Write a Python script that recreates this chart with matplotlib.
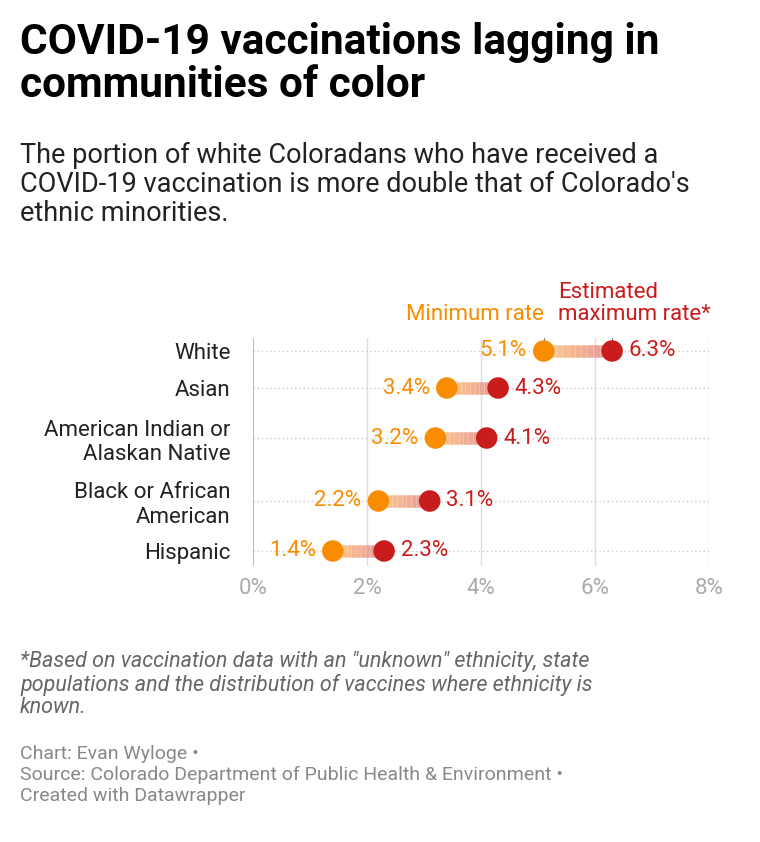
import matplotlib.pyplot as plt
import numpy as np
from matplotlib.collections import LineCollection
from matplotlib.colors import to_rgb

plt.rcParams['font.family'] = ['Roboto', 'DejaVu Sans']

groups = ['White', 'Asian', 'American Indian or\nAlaskan Native',
          'Black or African\nAmerican', 'Hispanic']
min_rate = [5.1, 3.4, 3.2, 2.2, 1.4]
max_rate = [6.3, 4.3, 4.1, 3.1, 2.3]
xticks = [0, 2, 4, 6, 8]

ORANGE = '#f98c00'
RED = '#c91d1d'

W, H = 760, 842
fig = plt.figure(figsize=(W / 100, H / 100), dpi=100)

# row positions depend on how many lines each label takes
lines = [g.count('\n') + 1 for g in groups]
ypos = [0.0]
for a, b in zip(lines[:-1], lines[1:]):
    ypos.append(ypos[-1] + 37 + 13 * (a - 1 + b - 1))
ypos = np.array(ypos) + 13

left, right, top, bottom = 253, 709, 338, 566
ax = fig.add_axes([left / W, 1 - bottom / H, (right - left) / W, (bottom - top) / H])
ax.set_xlim(0, 8)
ax.set_ylim(bottom - top, 0)
for s in ax.spines.values():
    s.set_visible(False)
ax.axvline(0, color='#aaaaaa', lw=1.2, zorder=1)
for x in xticks[1:]:
    ax.axvline(x, color='#dddddd', lw=1, zorder=0)
for y in ypos:
    ax.axhline(y, color='#cccccc', lw=1, ls=(0, (1, 2)), zorder=0)

c0, c1 = np.array(to_rgb(ORANGE)), np.array(to_rgb(RED))
for y, lo, hi in zip(ypos, min_rate, max_rate):
    xs = np.linspace(lo, hi, 12)
    segs = [[(xs[i], y), (xs[i + 1], y)] for i in range(len(xs) - 1)]
    cols = [tuple(0.45 * (c0 + (c1 - c0) * t) + 0.55) for t in np.linspace(0, 1, len(segs))]
    ax.add_collection(LineCollection(segs, colors=cols, linewidths=9, capstyle='butt', zorder=2))
    ax.scatter([lo], [y], s=240, color=ORANGE, zorder=3, edgecolor='none')
    ax.scatter([hi], [y], s=240, color=RED, zorder=3, edgecolor='none')
    ax.annotate(f'{lo}%', (lo, y), xytext=(-12, 0), textcoords='offset points',
                ha='right', va='center', color=ORANGE, fontsize=16)
    ax.annotate(f'{hi}%', (hi, y), xytext=(12, 0), textcoords='offset points',
                ha='left', va='center', color=RED, fontsize=16)

ax.set_yticks(ypos)
ax.set_yticklabels(groups, fontsize=16, color='#222222', linespacing=1.2)
ax.set_xticks(xticks)
ax.set_xticklabels([f'{x}%' for x in xticks], fontsize=16, color='#aaaaaa')
ax.tick_params(length=0)
ax.tick_params(axis='x', pad=9)
ax.tick_params(axis='y', pad=16)

# series labels with short vertical connectors
y0 = ypos[0]
ax.plot([min_rate[0]] * 2, [y0 - 25, y0 - 7], color='#888888', lw=0.8)
ax.plot([max_rate[0]] * 2, [y0 - 25, y0 - 7], color='#888888', lw=0.8)
ax.annotate('Minimum rate', (min_rate[0], y0), xytext=(0, 19),
            textcoords='offset points', ha='right', va='bottom',
            color=ORANGE, fontsize=16)
ax.annotate('Estimated\nmaximum rate*', (max_rate[0], y0), xytext=(-39, 19),
            textcoords='offset points', ha='left', va='bottom',
            color=RED, fontsize=16, linespacing=1.05)

fig.text(20 / W, 1 - 22 / H, 'COVID-19 vaccinations lagging in\ncommunities of color',
         fontsize=30.5, fontweight='bold', va='top', linespacing=1.05)
fig.text(20 / W, 1 - 142 / H,
         "The portion of white Coloradans who have received a\n"
         "COVID-19 vaccination is more double that of Colorado's\n"
         "ethnic minorities.", fontsize=19.5, va='top', color='#222222', linespacing=1.1)
fig.text(20 / W, 1 - 651 / H,
         '*Based on vaccination data with an "unknown" ethnicity, state\n'
         'populations and the distribution of vaccines where ethnicity is\n'
         'known.', fontsize=15.5, style='italic', va='top', color='#666666', linespacing=1.1)
fig.text(20 / W, 1 - 745 / H,
         'Chart: Evan Wyloge •\nSource: Colorado Department of Public Health & Environment •\n'
         'Created with Datawrapper', fontsize=14, va='top', color='#888888', linespacing=1.2)

fig.savefig('out.png', dpi=100, facecolor='white')
